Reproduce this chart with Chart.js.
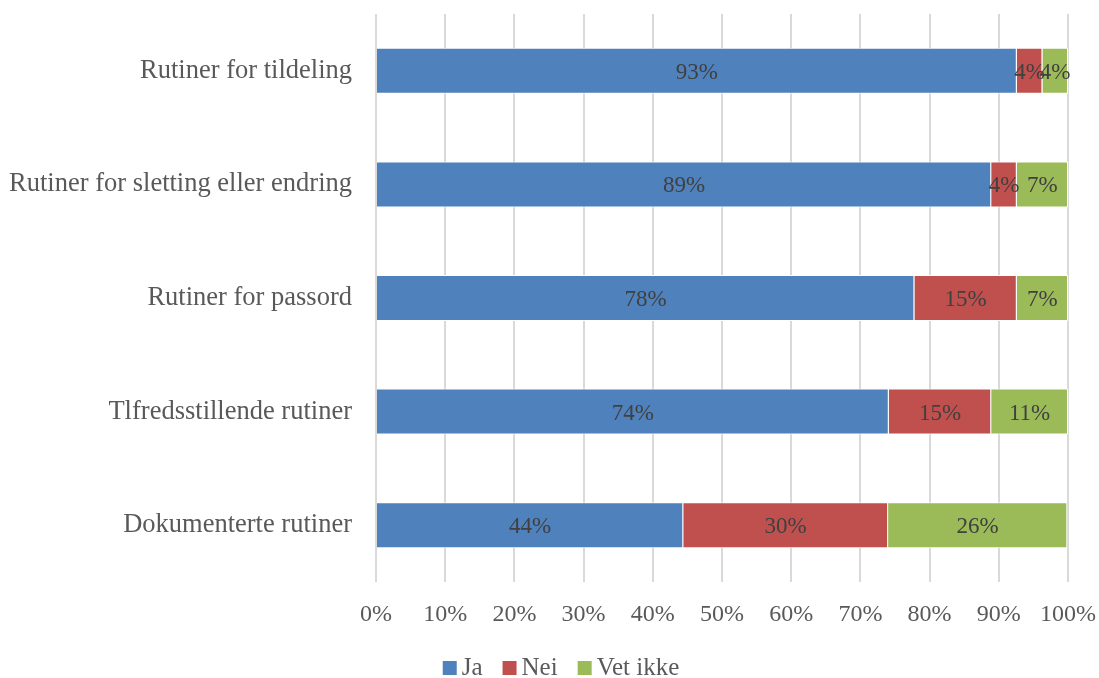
<!DOCTYPE html>
<html><head><meta charset="utf-8">
<script src="https://cdn.jsdelivr.net/npm/chart.js@4/dist/chart.umd.min.js"></script>
<style>html,body{margin:0;padding:0;background:#fff}#wrap{width:1099px;height:678px}</style>
</head><body><div id="wrap"><canvas id="c" width="1099" height="678"></canvas></div>
<script>
const categories = ["Rutiner for tildeling","Rutiner for sletting eller endring","Rutiner for passord","Tlfredsstillende rutiner","Dokumenterte rutiner"];
const ja = [92.6, 88.9, 77.8, 74.1, 44.4];
const nei = [3.7, 3.7, 14.8, 14.8, 29.6];
const vetIkke = [3.7, 7.4, 7.4, 11.1, 25.9];
const xTicks = [0,10,20,30,40,50,60,70,80,90,100];
const FONT = "'Liberation Serif', serif";

const labelPlugin = {
  id: 'segLabels',
  afterDatasetsDraw(chart) {
    const ctx = chart.ctx;
    ctx.save();
    ctx.font = "23px " + FONT;
    ctx.fillStyle = '#404040';
    ctx.textAlign = 'center';
    ctx.textBaseline = 'middle';
    chart.data.datasets.forEach((ds, i) => {
      chart.getDatasetMeta(i).data.forEach((bar, j) => {
        const cx = (bar.x + bar.base) / 2;
        ctx.fillText(Math.round(ds.data[j]) + '%', cx, bar.y + 2);
      });
    });
    ctx.restore();
  }
};

const legendPlugin = {
  id: 'customLegend',
  afterDraw(chart) {
    const ctx = chart.ctx;
    ctx.save();
    ctx.font = "25px " + FONT;
    ctx.textBaseline = 'alphabetic';
    ctx.textAlign = 'left';
    const items = chart.data.datasets.map(ds => ({text: ds.label, color: ds.backgroundColor, w: ctx.measureText(ds.label).width}));
    const box = 14, gapBox = 5, gapItem = 20;
    let total = 0;
    items.forEach((it, i) => { total += box + gapBox + it.w + (i < items.length - 1 ? gapItem : 0); });
    let x = 561 - total / 2;
    const base = 675;
    items.forEach(it => {
      ctx.fillStyle = it.color;
      ctx.fillRect(x, base - box, box, box);
      x += box + gapBox;
      ctx.fillStyle = '#595959';
      ctx.fillText(it.text, x, base);
      x += it.w + gapItem;
    });
    ctx.restore();
  }
};

new Chart(document.getElementById('c'), {
  type: 'bar',
  data: {
    labels: categories,
    datasets: [
      {label:'Ja', data: ja, backgroundColor:'#4f81bd', borderColor:'#ffffff', borderWidth:1},
      {label:'Nei', data: nei, backgroundColor:'#c0504d', borderColor:'#ffffff', borderWidth:1},
      {label:'Vet ikke', data: vetIkke, backgroundColor:'#9bbb59', borderColor:'#ffffff', borderWidth:1}
    ]
  },
  options: {
    indexAxis: 'y',
    responsive: false,
    animation: false,
    layout: {padding: {left: 8, right: 31, top: 14, bottom: 0}},
    datasets: {bar: {categoryPercentage: 1, barPercentage: 0.405}},
    scales: {
      x: {
        stacked: true, min: 0, max: 100,
        afterBuildTicks: (a) => { a.ticks = xTicks.map(v => ({value: v})); },
        afterFit: (a) => { a.height = 96; a.paddingLeft = 0; a.paddingRight = 0; a.paddingTop = 0; a.paddingBottom = 0; },
        ticks: {callback: v => v + '%', color:'#595959', font:{family: FONT, size: 24}, padding: 18, maxRotation: 0},
        grid: {color:'#d9d9d9', lineWidth: 2, drawTicks: false},
        border: {display: false}
      },
      y: {
        stacked: true,
        afterFit: (a) => { a.width = 368; a.paddingTop = 0; a.paddingBottom = 0; a.paddingLeft = 0; a.paddingRight = 0; },
        ticks: {color:'#595959', font:{family: FONT, size: 26.5}, padding: 24},
        grid: {display: false, drawTicks: false},
        border: {display: false}
      }
    },
    plugins: {
      legend: {display: false},
      tooltip: {enabled: false}
    }
  },
  plugins: [labelPlugin, legendPlugin]
});
</script></body></html>
